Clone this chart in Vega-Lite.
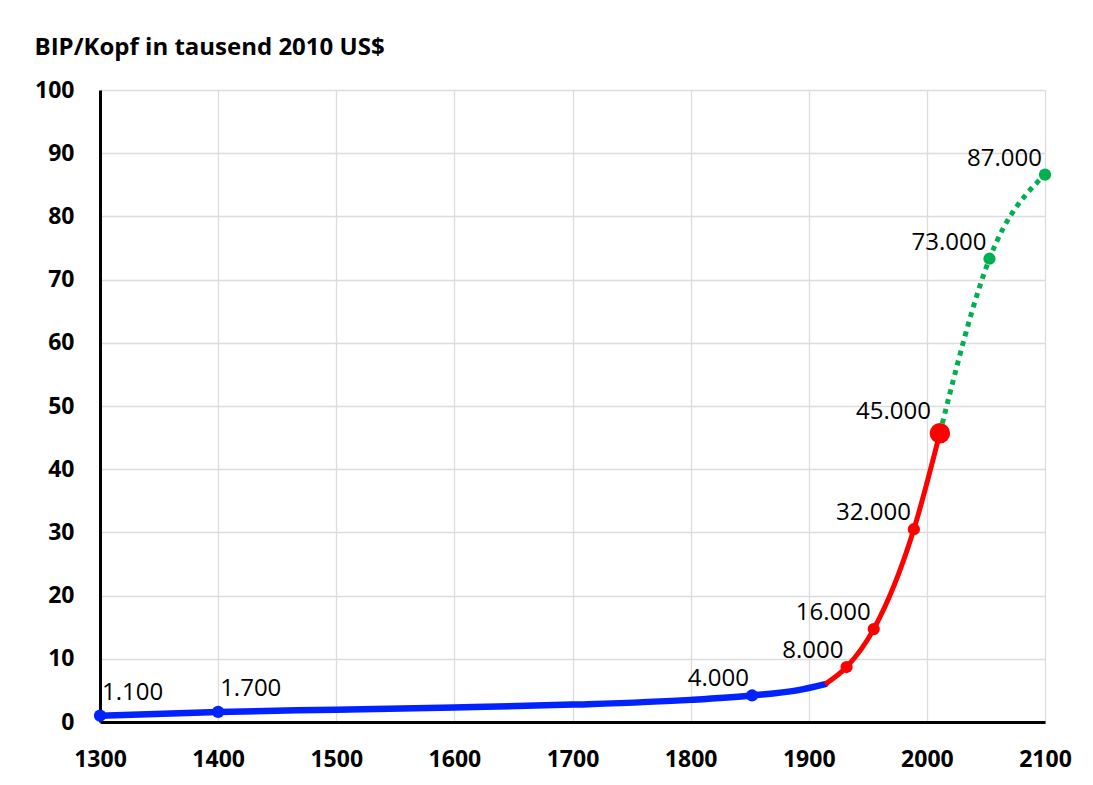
{
  "$schema": "https://vega.github.io/schema/vega-lite/v6.json",
  "autosize": "none",
  "width": 945,
  "height": 632,
  "padding": {"left": 100, "top": 90, "right": 48, "bottom": 63},
  "background": "white",
  "config": {
    "view": {"stroke": null},
    "font": "Open Sans",
    "axis": {"labelFont": "Open Sans", "titleFont": "Open Sans"}
  },
  "data": {
    "values": [
      {"year": 1300, "v": 1.0, "series": "blue", "label": "1.100"},
      {"year": 1400, "v": 1.6, "series": "blue", "label": "1.700"},
      {"year": 1500, "v": 1.95, "series": "blue"},
      {"year": 1600, "v": 2.3, "series": "blue"},
      {"year": 1700, "v": 2.75, "series": "blue"},
      {"year": 1800, "v": 3.5, "series": "blue"},
      {"year": 1852, "v": 4.2, "series": "blue", "label": "4.000"},
      {"year": 1890, "v": 5.0, "series": "blue"},
      {"year": 1914, "v": 6.0, "series": "blue"},
      {"year": 1914, "v": 6.0, "series": "red"},
      {"year": 1932, "v": 8.7, "series": "red", "label": "8.000"},
      {"year": 1955, "v": 14.7, "series": "red", "label": "16.000"},
      {"year": 1989, "v": 30.5, "series": "red", "label": "32.000"},
      {"year": 2011, "v": 45.7, "series": "red", "label": "45.000"},
      {"year": 2011, "v": 45.7, "series": "green"},
      {"year": 2053, "v": 73.3, "series": "green", "label": "73.000"},
      {"year": 2100, "v": 86.6, "series": "green", "label": "87.000"}
    ]
  },
  "encoding": {
    "x": {
      "field": "year", "type": "quantitative",
      "scale": {"domain": [1300, 2100], "nice": false, "zero": false},
      "axis": {
        "values": [1300, 1400, 1500, 1600, 1700, 1800, 1900, 2000, 2100],
        "title": null, "format": "d", "labelFlush": false,
        "labelFontSize": 23, "labelFontWeight": "bold", "labelColor": "black",
        "labelPadding": 26, "ticks": false,
        "domainColor": "black", "domainWidth": 3,
        "grid": true, "gridColor": "#dcdcdc", "gridWidth": 1.3
      }
    },
    "y": {
      "field": "v", "type": "quantitative",
      "scale": {"domain": [0, 100], "nice": false},
      "axis": {
        "values": [0, 10, 20, 30, 40, 50, 60, 70, 80, 90, 100],
        "title": "BIP/Kopf in tausend 2010 US$",
        "titleAngle": 0, "titleX": -66, "titleY": -43,
        "titleAlign": "left", "titleBaseline": "middle",
        "titleFontSize": 24, "titleFontWeight": "bold", "titleColor": "black",
        "labelFlush": false,
        "labelFontSize": 23, "labelFontWeight": "bold", "labelColor": "black",
        "labelPadding": 26, "ticks": false,
        "domainColor": "black", "domainWidth": 3,
        "grid": true, "gridColor": "#dcdcdc", "gridWidth": 1.3
      }
    },
    "color": {
      "field": "series", "type": "nominal",
      "scale": {"domain": ["blue", "red", "green"], "range": ["#0022ff", "#ff0000", "#00b050"]},
      "legend": null
    }
  },
  "layer": [
    {
      "transform": [{"filter": "datum.series == 'blue'"}],
      "mark": {"type": "line", "interpolate": "monotone", "strokeWidth": 6.5, "strokeCap": "round"}
    },
    {
      "transform": [{"filter": "datum.series == 'red'"}],
      "mark": {"type": "line", "interpolate": "monotone", "strokeWidth": 5, "strokeCap": "butt"}
    },
    {
      "transform": [{"filter": "datum.series == 'green'"}],
      "mark": {"type": "line", "interpolate": "monotone", "strokeWidth": 5, "strokeDash": [5, 5], "strokeCap": "butt"}
    },
    {
      "transform": [{"filter": "isValid(datum.label) && datum.year != 2011"}],
      "mark": {"type": "point", "filled": true, "opacity": 1, "size": 150}
    },
    {
      "transform": [{"filter": "isValid(datum.label) && datum.year == 2011"}],
      "mark": {"type": "point", "filled": true, "opacity": 1, "size": 420}
    },
    {
      "transform": [{"filter": "datum.year == 1300 || datum.year == 1400"}],
      "mark": {"type": "text", "align": "left", "baseline": "middle", "dx": 2, "dy": -23, "fontSize": 24, "color": "black"},
      "encoding": {"text": {"field": "label"}, "color": {"value": "black"}}
    },
    {
      "transform": [{"filter": "isValid(datum.label) && datum.year > 1400 && datum.year != 2011"}],
      "mark": {"type": "text", "align": "right", "baseline": "middle", "dx": -3, "dy": -16, "fontSize": 24, "color": "black"},
      "encoding": {"text": {"field": "label"}, "color": {"value": "black"}}
    },
    {
      "transform": [{"filter": "isValid(datum.label) && datum.year == 2011"}],
      "mark": {"type": "text", "align": "right", "baseline": "middle", "dx": -9, "dy": -21, "fontSize": 24, "color": "black"},
      "encoding": {"text": {"field": "label"}, "color": {"value": "black"}}
    }
  ]
}
